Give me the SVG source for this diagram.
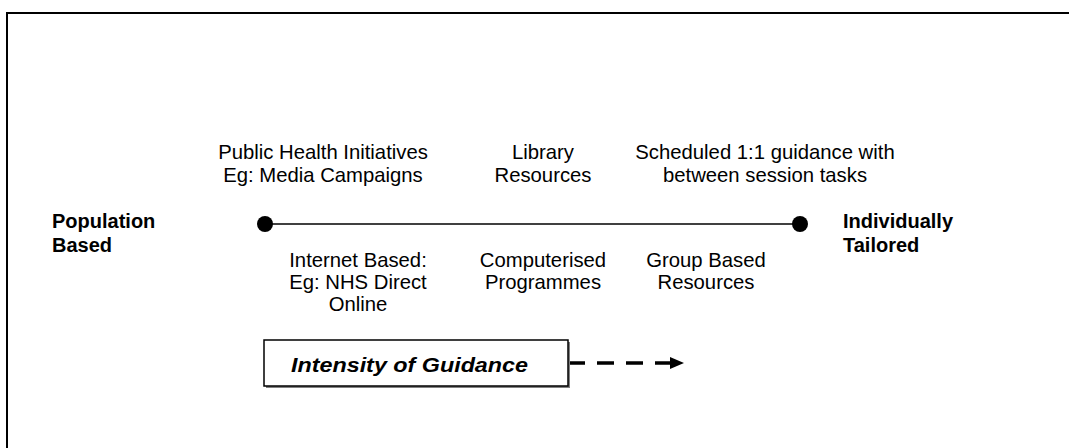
<svg xmlns="http://www.w3.org/2000/svg" width="1069" height="448" viewBox="0 0 1069 448">
<style>
.t{font-family:"Liberation Sans",Arial,sans-serif;font-size:20.3px;fill:#000;text-anchor:middle}
.b{font-family:"Liberation Sans",Arial,sans-serif;font-size:20px;font-weight:bold;fill:#000}
.bi{font-family:"Liberation Sans",Arial,sans-serif;font-size:21px;font-weight:bold;font-style:italic;fill:#000}
</style>
<rect x="0" y="0" width="1069" height="448" fill="#fff"/>
<rect id="frame" x="7" y="13" width="1100" height="500" fill="none" stroke="#000" stroke-width="2"/>
<g id="connectors">
<line x1="265" y1="224" x2="800" y2="224" stroke="#000" stroke-width="1.5"/>
<path d="M568,363 L672,363" stroke="#000" stroke-width="3.5" stroke-dasharray="17 12" fill="none"/>
<path d="M670,357 L684,363 L670,369 Z" fill="#000"/>
</g>
<g id="dot-left"><circle cx="265" cy="224" r="8" fill="#000"/></g>
<g id="dot-right"><circle cx="800" cy="224" r="8" fill="#000"/></g>
<g id="population"><text class="b" x="52" y="228">Population</text><text class="b" x="52" y="252">Based</text></g>
<g id="individually"><text class="b" x="843" y="228">Individually</text><text class="b" x="843" y="252">Tailored</text></g>
<g id="public-health"><text class="t" x="323" y="159">Public Health Initiatives</text><text class="t" x="323" y="182">Eg: Media Campaigns</text></g>
<g id="library"><text class="t" x="543" y="159">Library</text><text class="t" x="543" y="182">Resources</text></g>
<g id="scheduled"><text class="t" x="765" y="159">Scheduled 1:1 guidance with</text><text class="t" x="765" y="182">between session tasks</text></g>
<g id="internet"><text class="t" x="358" y="267">Internet Based:</text><text class="t" x="358" y="289">Eg: NHS Direct</text><text class="t" x="358" y="311">Online</text></g>
<g id="computerised"><text class="t" x="543" y="267">Computerised</text><text class="t" x="543" y="289">Programmes</text></g>
<g id="group"><text class="t" x="706" y="267">Group Based</text><text class="t" x="706" y="289">Resources</text></g>
<g id="intensity">
<rect x="266" y="342" width="304" height="46" fill="#808080"/>
<rect x="264" y="340" width="304" height="46" fill="#fff" stroke="#000" stroke-width="1.5"/>
<text class="bi" x="291" y="372" textLength="237" lengthAdjust="spacingAndGlyphs">Intensity of Guidance</text>
</g>
</svg>
